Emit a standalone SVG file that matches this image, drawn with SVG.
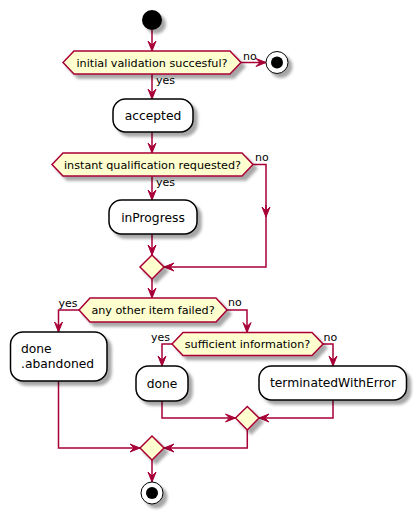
<svg xmlns="http://www.w3.org/2000/svg" width="416" height="512" viewBox="0 0 416 512">
<style>
.ln{fill:none;stroke:#A80036;stroke-width:1.5}
.dec{fill:#FEFECE;stroke:#A80036;stroke-width:1.5}
.act{fill:#FFFFFF;stroke:#000000;stroke-width:1.5}
.t{font-family:"DejaVu Sans","Liberation Sans",sans-serif;fill:#000}
.dt{font-size:11.2px;text-anchor:middle}
.at{font-size:12.3px;text-anchor:middle}
.lb{font-size:11px}
</style>
<defs>
<filter id="sh" x="-20%" y="-30%" width="150%" height="180%">
<feGaussianBlur in="SourceAlpha" stdDeviation="1.8" result="b"/>
<feOffset in="b" dx="3.5" dy="3.5" result="o"/>
<feComponentTransfer in="o" result="c"><feFuncA type="linear" slope="0.35"/></feComponentTransfer>
<feMerge><feMergeNode in="c"/><feMergeNode in="SourceGraphic"/></feMerge>
</filter>
<marker id="ar" markerUnits="userSpaceOnUse" markerWidth="10" markerHeight="8" refX="10" refY="4" orient="auto" overflow="visible">
<path d="M0,0 L10,4 L0,8 L4,4 Z" fill="#A80036" stroke="#A80036" stroke-width="1"/>
</marker>
</defs>

<g id="connectors">
<path class="ln" d="M152,30 V51" marker-end="url(#ar)"/>
<path class="ln" d="M241,62.5 H266" marker-end="url(#ar)"/>
<path class="ln" d="M152,74 V99" marker-end="url(#ar)"/>
<path class="ln" d="M152,132 V153" marker-end="url(#ar)"/>
<path class="ln" d="M152,176 V200" marker-end="url(#ar)"/>
<path class="ln" d="M152,234 V255" marker-end="url(#ar)"/>
<path class="ln" d="M253,164.5 H266 V267 H164" marker-end="url(#ar)"/>
<path class="ln" d="M266,205 V217" marker-end="url(#ar)"/>
<path class="ln" d="M152,279 V298" marker-end="url(#ar)"/>
<path class="ln" d="M79,310 H58.5 V332" marker-end="url(#ar)"/>
<path class="ln" d="M227,310 H247 V332.5" marker-end="url(#ar)"/>
<path class="ln" d="M172,344 H162 V366" marker-end="url(#ar)"/>
<path class="ln" d="M323,344 H333 V366" marker-end="url(#ar)"/>
<path class="ln" d="M162,401 V418 H235.5" marker-end="url(#ar)"/>
<path class="ln" d="M333,400 V418 H259" marker-end="url(#ar)"/>
<path class="ln" d="M58.5,381 V448 H140" marker-end="url(#ar)"/>
<path class="ln" d="M247.3,430 V448 H164" marker-end="url(#ar)"/>
<path class="ln" d="M152,460 V482" marker-end="url(#ar)"/>
<text class="t lb" x="243" y="59.5">no</text>
<text class="t lb" x="156" y="84">yes</text>
<text class="t lb" x="255" y="161">no</text>
<text class="t lb" x="156" y="186">yes</text>
<text class="t lb" x="58.5" y="307">yes</text>
<text class="t lb" x="228" y="306">no</text>
<text class="t lb" x="151" y="341">yes</text>
<text class="t lb" x="323.5" y="341">no</text>
</g>

<g id="start">
<circle cx="152" cy="20" r="10" fill="#000" filter="url(#sh)"/>
</g>

<g id="dec-validation">
<polygon class="dec" filter="url(#sh)" points="63,62.5 74,51 230,51 241,62.5 230,74 74,74"/>
<text class="t dt" x="152" y="66.5">initial validation succesful?</text>
</g>

<g id="stop-rejected">
<circle cx="277" cy="62.5" r="11" fill="#FFF" stroke="#000" stroke-width="1" filter="url(#sh)"/>
<circle cx="277" cy="62.5" r="6" fill="#000"/>
</g>

<g id="accepted">
<rect class="act" filter="url(#sh)" x="113" y="99" width="80" height="33" rx="12.5"/>
<text class="t at" x="153" y="120">accepted</text>
</g>

<g id="dec-instant">
<polygon class="dec" filter="url(#sh)" points="52,164.5 63,153 242,153 253,164.5 242,176 63,176"/>
<text class="t dt" x="152.5" y="168.5">instant qualification requested?</text>
</g>

<g id="inProgress">
<rect class="act" filter="url(#sh)" x="109" y="200" width="88" height="34" rx="12.5"/>
<text class="t at" x="153" y="221.5">inProgress</text>
</g>

<g id="merge-1">
<polygon class="dec" filter="url(#sh)" points="152,255 164,267 152,279 140,267"/>
</g>

<g id="dec-failed">
<polygon class="dec" filter="url(#sh)" points="79,310 90,298 216,298 227,310 216,322 90,322"/>
<text class="t dt" x="153" y="314">any other item failed?</text>
</g>

<g id="done-abandoned">
<rect class="act" filter="url(#sh)" x="10.5" y="332" width="96.5" height="49" rx="12.5"/>
<text class="t" font-size="12.3" x="21" y="353">done</text>
<text class="t" font-size="12.3" x="21" y="367.5">.abandoned</text>
</g>

<g id="dec-sufficient">
<polygon class="dec" filter="url(#sh)" points="172,344 183,332.5 312,332.5 323,344 312,355.5 183,355.5"/>
<text class="t dt" x="247.5" y="348">sufficient information?</text>
</g>

<g id="done">
<rect class="act" filter="url(#sh)" x="136" y="366" width="52" height="35" rx="12.5"/>
<text class="t at" x="162" y="387.5">done</text>
</g>

<g id="terminatedWithError">
<rect class="act" filter="url(#sh)" x="259" y="366" width="147.5" height="34" rx="12.5"/>
<text class="t at" x="333" y="387">terminatedWithError</text>
</g>

<g id="merge-2">
<polygon class="dec" filter="url(#sh)" points="247.3,406.5 259,418 247.3,430 235.5,418"/>
</g>

<g id="merge-3">
<polygon class="dec" filter="url(#sh)" points="152,436 164,448 152,460 140,448"/>
</g>

<g id="stop-end">
<circle cx="152" cy="493" r="11" fill="#FFF" stroke="#000" stroke-width="1" filter="url(#sh)"/>
<circle cx="152" cy="493" r="6" fill="#000"/>
</g>
</svg>
